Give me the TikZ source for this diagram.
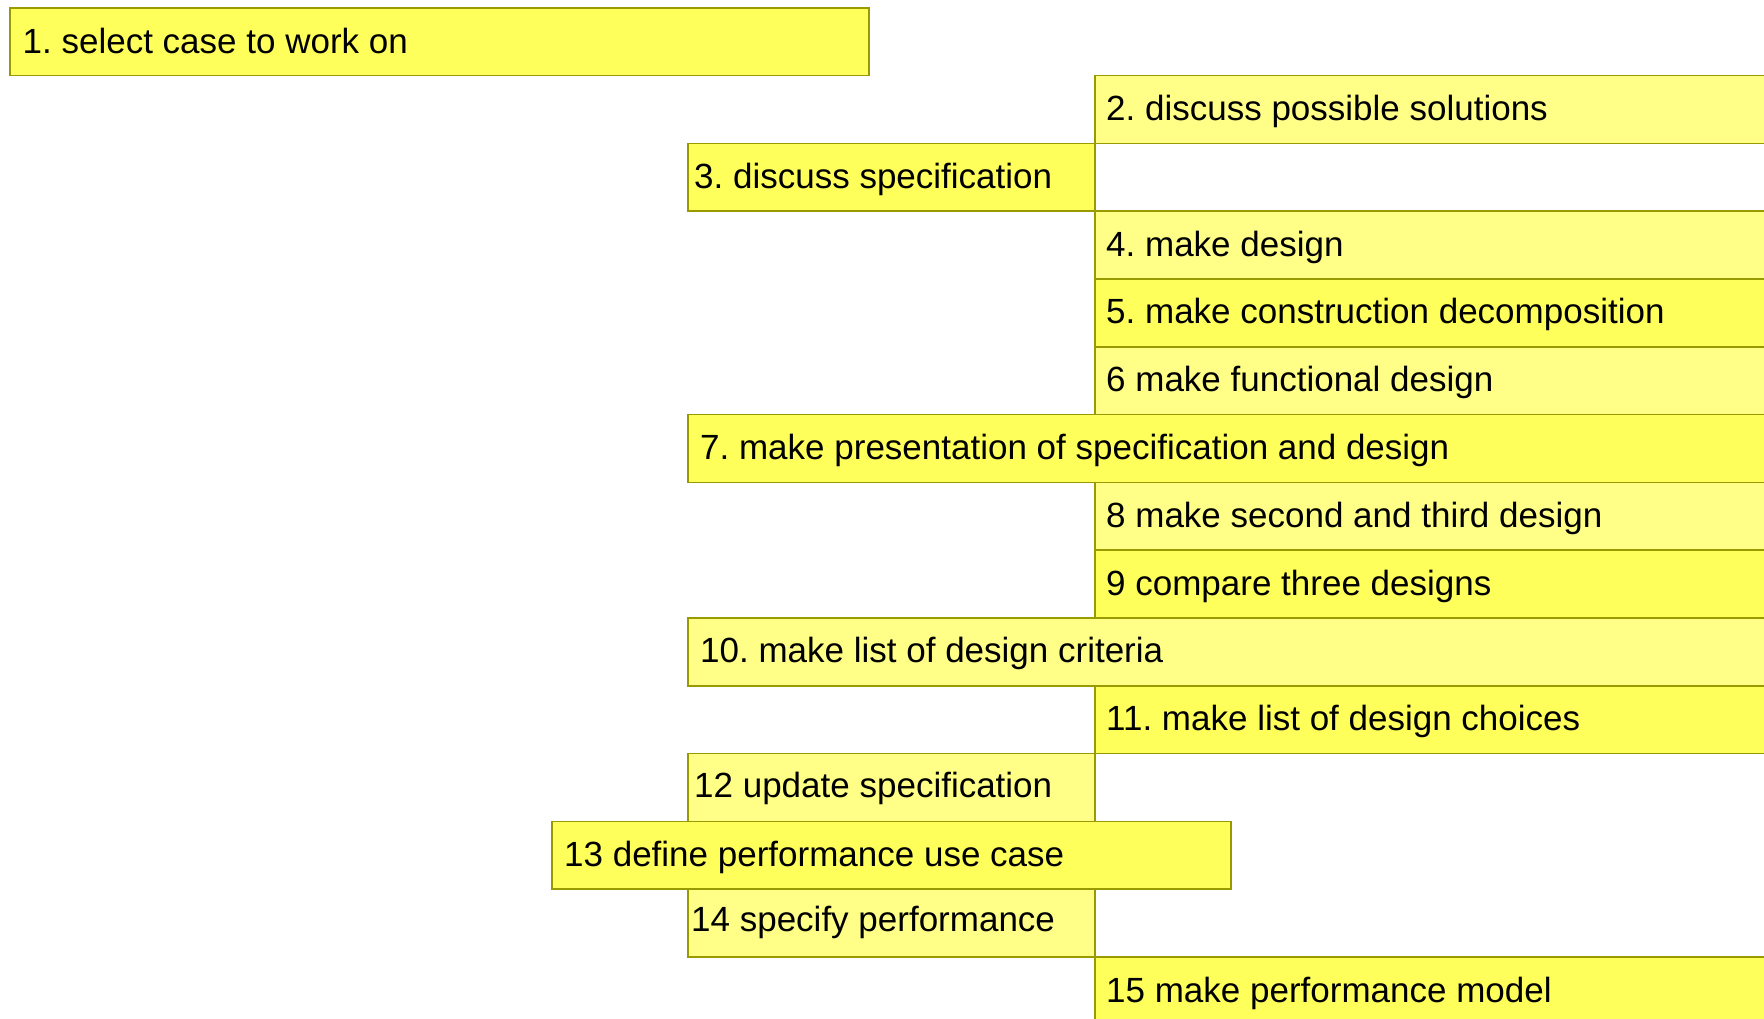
\documentclass[tikz,border=0pt]{standalone}
\usepackage{fontspec}
\setmainfont{Liberation Sans}
\frenchspacing
\definecolor{bright}{HTML}{FFFF5C}
\definecolor{light}{HTML}{FFFF88}
\definecolor{edge}{HTML}{999900}
\begin{document}
\begin{tikzpicture}[x=1pt,y=-1pt,
  bx/.style={draw=edge,line width=1.6pt,rectangle,anchor=north west,inner sep=0pt,minimum height=67.8pt},
  hi/.style={bx,fill=bright},
  lo/.style={bx,fill=light},
  txt/.style={anchor=west,inner sep=0pt,font=\fontsize{35}{40}\selectfont}]
\useasboundingbox (0,0) rectangle (1764,1019);
\clip (0,0) rectangle (1764,1019);
\fill[white] (0,0) rectangle (1764,1019);
\def\rh{67.8}
% boxes
\node[hi,minimum width=859pt] (b1) at (9,7) {};
\node[lo,minimum width=700pt] (b2) at (1094,{7+1*\rh}) {};
\node[hi,minimum width=407pt] (b3) at (687,{7+2*\rh}) {};
\node[lo,minimum width=700pt] (b4) at (1094,{7+3*\rh}) {};
\node[hi,minimum width=700pt] (b5) at (1094,{7+4*\rh}) {};
\node[lo,minimum width=700pt] (b6) at (1094,{7+5*\rh}) {};
\node[hi,minimum width=1100pt] (b7) at (687,{7+6*\rh}) {};
\node[lo,minimum width=700pt] (b8) at (1094,{7+7*\rh}) {};
\node[hi,minimum width=700pt] (b9) at (1094,{7+8*\rh}) {};
\node[lo,minimum width=1100pt] (b10) at (687,{7+9*\rh}) {};
\node[hi,minimum width=700pt] (b11) at (1094,{7+10*\rh}) {};
\node[lo,minimum width=407pt] (b12) at (687,{7+11*\rh}) {};
\node[lo,minimum width=407pt] (b14) at (687,{7+13*\rh}) {};
\node[hi,minimum width=679pt] (b13) at (551,{7+12*\rh}) {};
\node[hi,minimum width=700pt] (b15) at (1094,{7+14*\rh}) {};
% texts
\node[txt] (t1) at ([xshift=13.5pt,yshift=1pt]b1.west) {1. select case to work on};
\node[txt] (t2) at ([xshift=12pt,yshift=-1.5pt]b2.west) {2. discuss possible solutions};
\node[txt] (t3) at ([xshift=7pt,yshift=-2pt]b3.west) {3. discuss specification};
\node[txt] (t4) at ([xshift=12pt,yshift=-2pt]b4.west) {4. make design};
\node[txt] (t5) at ([xshift=12pt,yshift=-2pt]b5.west) {5. make construction decomposition};
\node[txt] (t6) at ([xshift=12pt,yshift=-2pt]b6.west) {6 make functional design};
\node[txt] (t7) at ([xshift=13pt,yshift=-2pt]b7.west) {7. make presentation of specification and design};
\node[txt] (t8) at ([xshift=12pt,yshift=-2pt]b8.west) {8 make second and third design};
\node[txt] (t9) at ([xshift=12pt,yshift=-2pt]b9.west) {9 compare three designs};
\node[txt] (t10) at ([xshift=13pt,yshift=-2pt]b10.west) {10. make list of design criteria};
\node[txt] (t11) at ([xshift=12pt,yshift=-2pt]b11.west) {11. make list of design choices};
\node[txt] (t12) at ([xshift=7pt,yshift=-1pt]b12.west) {12 update specification};
\node[txt] (t13) at ([xshift=13pt,yshift=-2pt]b13.west) {13 define performance use case};
\node[txt] (t14) at ([xshift=4pt,yshift=1pt]b14.west) {14 specify performance};
\node[txt] (t15) at ([xshift=12pt,yshift=-2.5pt]b15.west) {15 make performance model};
\end{tikzpicture}
\end{document}
